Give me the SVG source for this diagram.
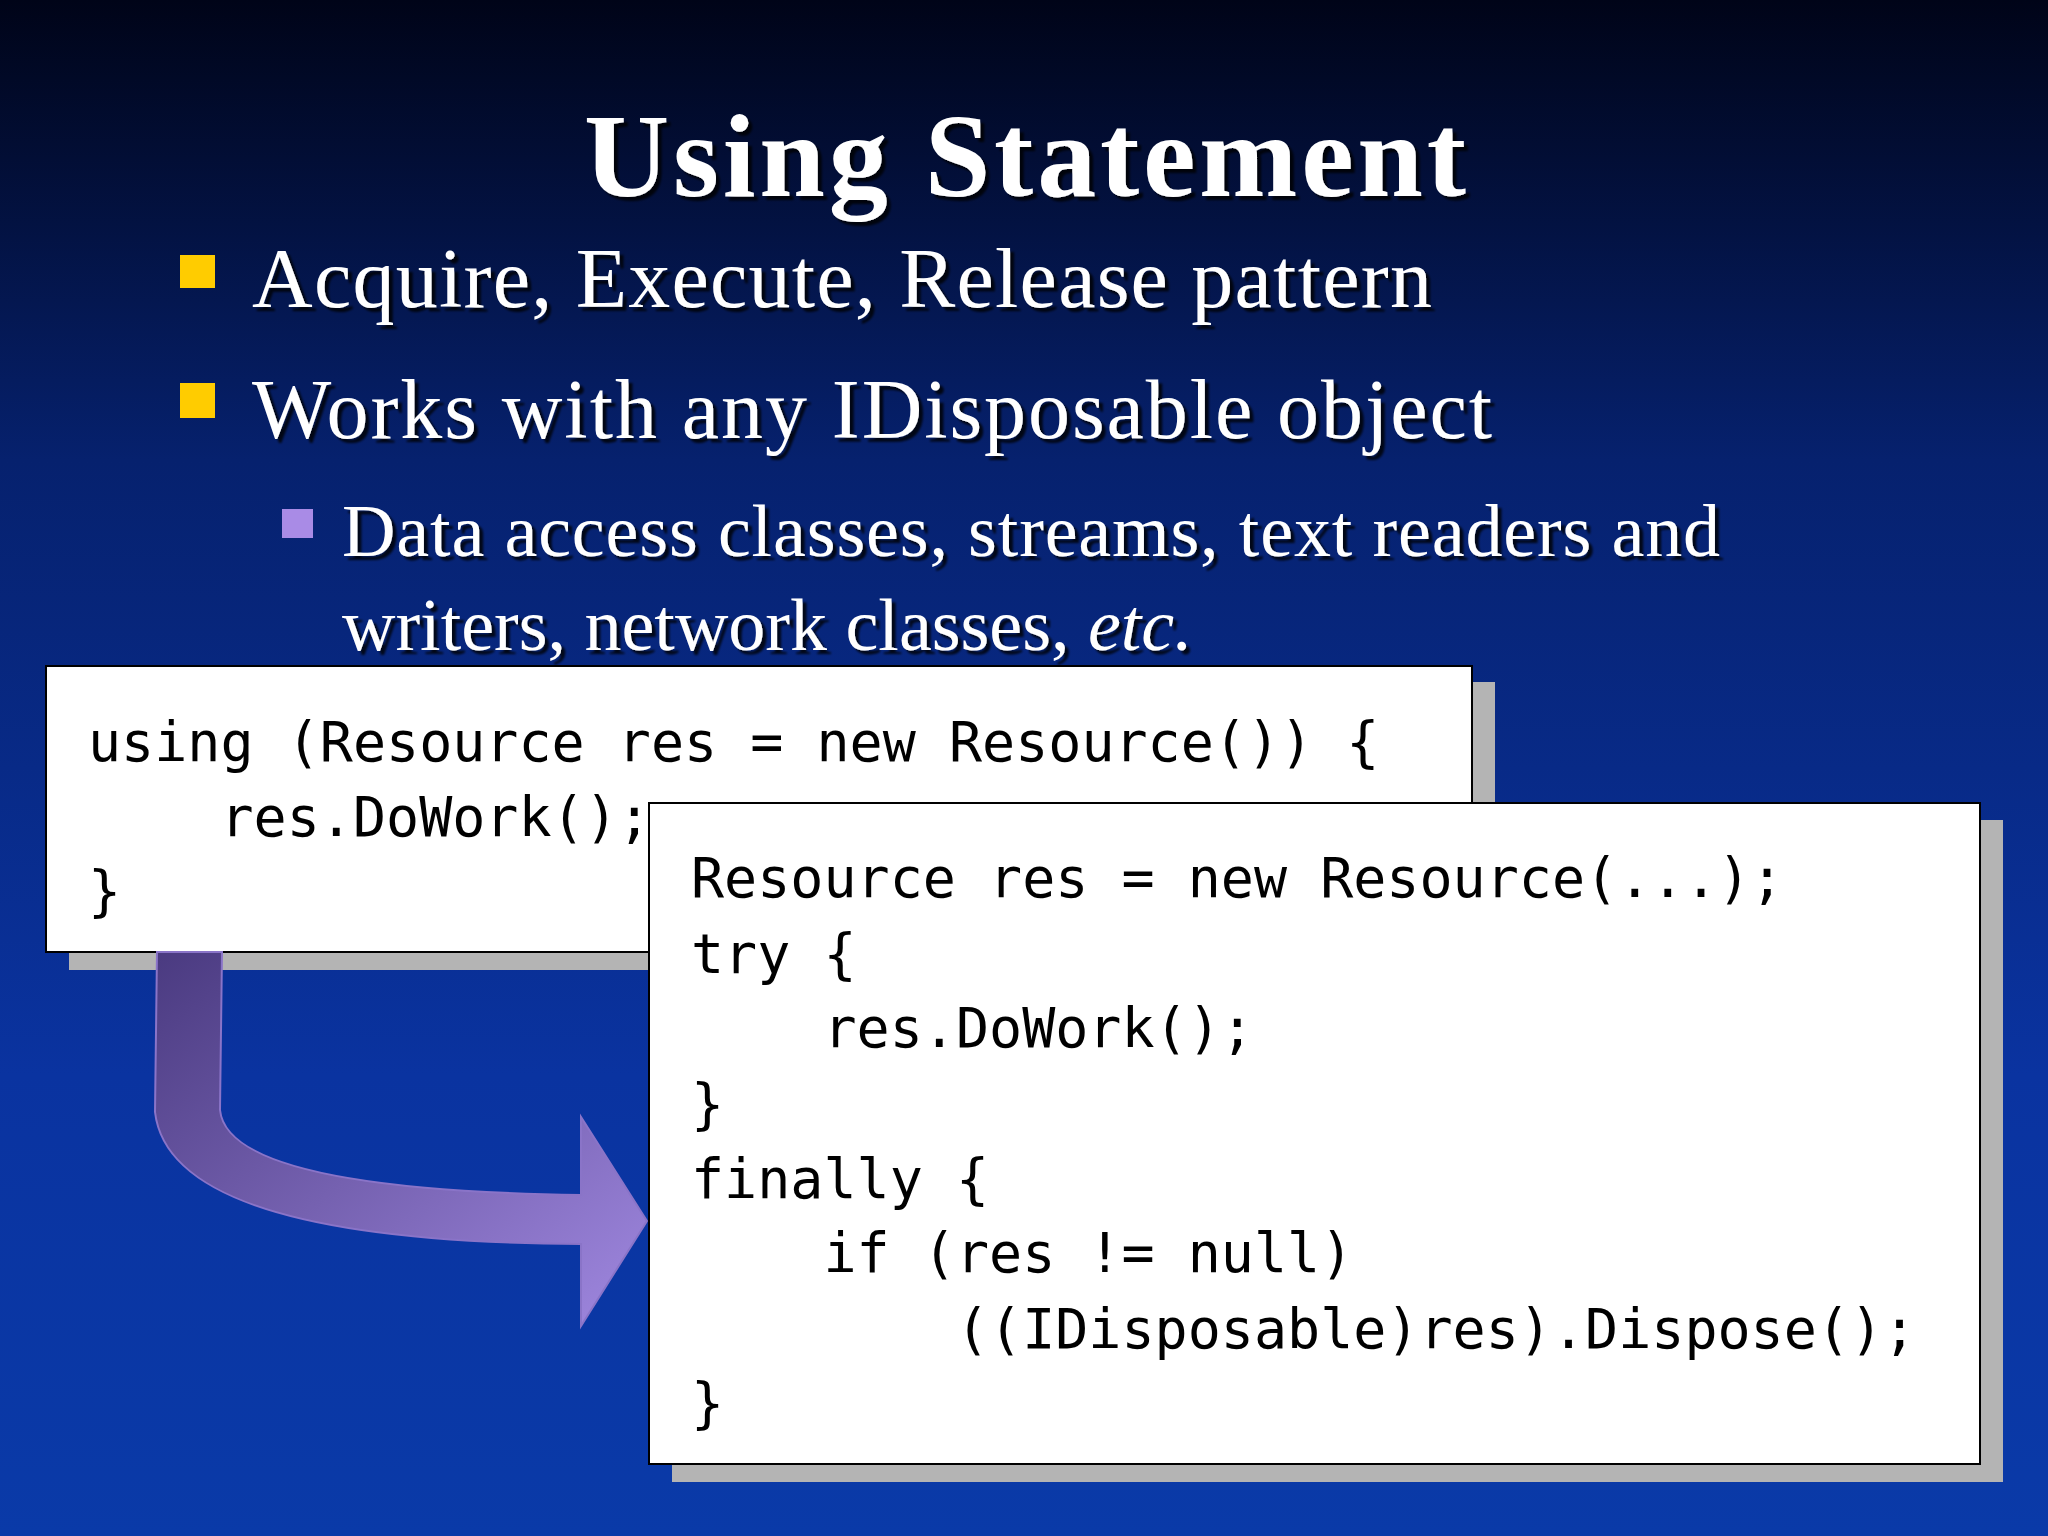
<svg xmlns="http://www.w3.org/2000/svg" width="2048" height="1536" viewBox="0 0 2048 1536">
<defs>
<linearGradient id="bg" x1="0" y1="0" x2="0" y2="1">
<stop offset="0" stop-color="#000418"/>
<stop offset="0.3" stop-color="#06216e"/>
<stop offset="0.7" stop-color="#0a33a0"/>
<stop offset="1" stop-color="#0a3aa8"/>
</linearGradient>
<linearGradient id="arr" x1="0" y1="0" x2="1" y2="1">
<stop offset="0" stop-color="#4a3a80"/>
<stop offset="1" stop-color="#a088e0"/>
</linearGradient>
<filter id="sh"><feDropShadow dx="4" dy="4" stdDeviation="1" flood-color="#000" flood-opacity="0.8"/></filter>
<style>
.t{font-family:"Liberation Serif",serif;fill:#fff;filter:url(#sh)}
.c{font-family:"DejaVu Sans Mono",monospace;font-size:55px;fill:#000;white-space:pre}
.box{fill:#fff;stroke:#000;stroke-width:2}
.shd{fill:#b4b4b4}
</style>
</defs>
<rect width="2048" height="1536" fill="url(#bg)"/>
<text class="t" x="1025" y="196" font-size="118" font-weight="bold" text-anchor="middle" fill="#e8e8ff" textLength="882">Using Statement</text>
<rect x="180" y="255" width="35" height="33" fill="#ffcc00"/>
<text class="t" x="252" y="307" font-size="84" textLength="1180">Acquire, Execute, Release pattern</text>
<rect x="180" y="383" width="35" height="35" fill="#ffcc00"/>
<text class="t" x="252" y="438" font-size="84" textLength="1240">Works with any IDisposable object</text>
<rect x="282" y="509" width="31" height="29" fill="#a98be6"/>
<text class="t" x="342" y="556" font-size="74" textLength="1378">Data access classes, streams, text readers and</text>
<text class="t" x="342" y="650" font-size="74">writers, network classes, <tspan font-style="italic">etc.</tspan></text>
<g id="box1">
<rect class="shd" x="69" y="682" width="1426" height="288"/>
<rect class="box" x="46" y="666" width="1426" height="286"/>
<text class="c" x="88" y="761">using (Resource res = new Resource()) {</text>
<text class="c" x="88" y="836">    res.DoWork();</text>
<text class="c" x="88" y="910">}</text>
</g>
<g id="connectors">
<path d="M157,952 L222,952 L220,1110 Q228,1190 581,1195 L581,1117 L647,1221 L581,1326 L581,1244 Q170,1242 155,1112 Z" fill="url(#arr)" stroke="#8a74c8" stroke-width="2"/>
</g>
<g id="box2">
<rect class="shd" x="672" y="820" width="1331" height="662"/>
<rect class="box" x="649" y="803" width="1331" height="661"/>
<text class="c" x="691" y="897">Resource res = new Resource(...);</text>
<text class="c" x="691" y="973">try {</text>
<text class="c" x="691" y="1047">    res.DoWork();</text>
<text class="c" x="691" y="1123">}</text>
<text class="c" x="691" y="1198">finally {</text>
<text class="c" x="691" y="1272">    if (res != null)</text>
<text class="c" x="691" y="1348">        ((IDisposable)res).Dispose();</text>
<text class="c" x="691" y="1422">}</text>
</g>
</svg>
